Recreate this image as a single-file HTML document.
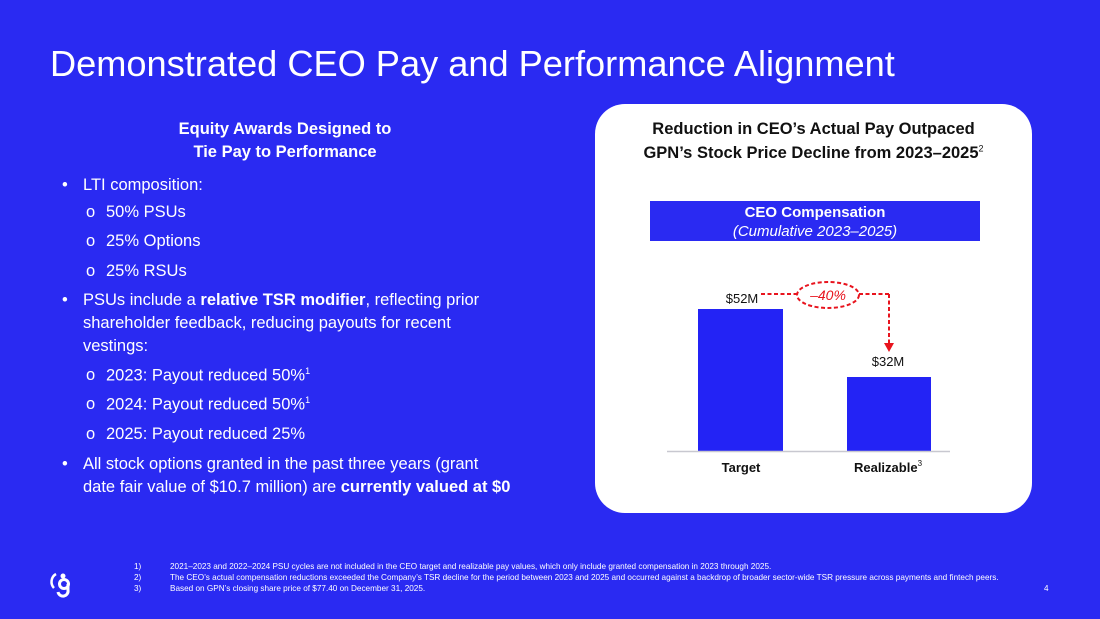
<!DOCTYPE html>
<html><head><style>
body{margin:0;width:1100px;height:619px;background:#2a2af2;overflow:hidden;position:relative;font-family:"Liberation Sans",sans-serif;color:#fff}
.a{position:absolute;white-space:nowrap}
.t{font-size:16.5px}
.fn{font-size:8.2px;color:#fff}
</style></head><body>
<div class="a" style="left:50px;top:43px;font-size:36.2px;">Demonstrated CEO Pay and Performance Alignment</div>
<div class="a" style="left:120px;top:118px;width:330px;text-align:center;font-size:16.5px;font-weight:bold;line-height:23px;white-space:normal">Equity Awards Designed to<br>Tie Pay to Performance</div>
<div class="a t" style="left:62px;top:176px">•</div><div class="a t" style="left:83px;top:176px">LTI composition:</div>
<div class="a t" style="left:86px;top:203px">o</div><div class="a t" style="left:106px;top:203px">50% PSUs</div>
<div class="a t" style="left:86px;top:232px">o</div><div class="a t" style="left:106px;top:232px">25% Options</div>
<div class="a t" style="left:86px;top:262px">o</div><div class="a t" style="left:106px;top:262px">25% RSUs</div>
<div class="a t" style="left:62px;top:291px">•</div><div class="a t" style="left:83px;top:291px">PSUs include a <b>relative TSR modifier</b>, reflecting prior</div>
<div class="a t" style="left:83px;top:314px">shareholder feedback, reducing payouts for recent</div>
<div class="a t" style="left:83px;top:337px">vestings:</div>
<div class="a t" style="left:86px;top:366px">o</div><div class="a t" style="left:106px;top:366px">2023: Payout reduced 50%<sup style="font-size:9px">1</sup></div>
<div class="a t" style="left:86px;top:395px">o</div><div class="a t" style="left:106px;top:395px">2024: Payout reduced 50%<sup style="font-size:9px">1</sup></div>
<div class="a t" style="left:86px;top:425px">o</div><div class="a t" style="left:106px;top:425px">2025: Payout reduced 25%</div>
<div class="a t" style="left:62px;top:455px">•</div><div class="a t" style="left:83px;top:455px">All stock options granted in the past three years (grant</div>
<div class="a t" style="left:83px;top:478px">date fair value of $10.7 million) are <b>currently valued at $0</b></div>

<div class="a" style="left:595px;top:104px;width:437px;height:409px;background:#fff;border-radius:30px"></div>
<div class="a" style="left:595px;top:117px;width:437px;text-align:center;color:#111;font-weight:bold;font-size:16.5px;line-height:24px">Reduction in CEO’s Actual Pay Outpaced<br>GPN’s Stock Price Decline from 2023–2025<sup style="font-size:9px;font-weight:normal;line-height:0">2</sup></div>
<div class="a" style="left:650px;top:201px;width:330px;height:40px;background:#2a2af2;text-align:center;font-size:15px;line-height:19px;padding-top:2px;box-sizing:border-box"><b>CEO Compensation</b><br><i>(Cumulative 2023–2025)</i></div>
<svg class="a" style="left:0;top:0" width="1100" height="619">
<rect x="698" y="309" width="85" height="142" fill="#2323f5"/>
<rect x="847" y="377" width="84" height="74" fill="#2323f5"/>
<line x1="667" y1="451.5" x2="950" y2="451.5" stroke="#c8c8d0" stroke-width="1.5"/>
<text x="742" y="303" font-size="13" text-anchor="middle" fill="#111">$52M</text>
<text x="888" y="366" font-size="13" text-anchor="middle" fill="#111">$32M</text>
<text x="741" y="472" font-size="13" font-weight="bold" text-anchor="middle" fill="#111">Target</text>
<text x="888" y="472" font-size="13" font-weight="bold" text-anchor="middle" fill="#111">Realizable<tspan font-size="8" font-weight="normal" dy="-6">3</tspan></text>
<g stroke="#e8141e" stroke-width="2" stroke-dasharray="4,2.5" fill="none">
<line x1="761" y1="294" x2="797" y2="294"/>
<ellipse cx="828" cy="295" rx="31" ry="13"/>
<line x1="859" y1="294" x2="889" y2="294"/>
<line x1="889" y1="294" x2="889" y2="343"/>
</g>
<polygon points="884,343 894,343 889,352" fill="#e8141e"/>
<text x="828" y="300" font-size="14" font-style="italic" text-anchor="middle" fill="#e8141e">–40%</text>
<path d="M56 574 A9 9 0 0 0 54 588" stroke="#fff" stroke-width="2.5" fill="none"/>
<circle cx="63" cy="576" r="2.5" fill="#fff"/>
<circle cx="64" cy="584" r="4.5" fill="none" stroke="#fff" stroke-width="3"/>
<path d="M68 584 L68 590 A5 5 0 0 1 58 592" stroke="#fff" stroke-width="3" fill="none"/>
</svg>
<div class="a fn" style="left:134px;top:562px">1)</div><div class="a fn" style="left:170px;top:562px">2021–2023 and 2022–2024 PSU cycles are not included in the CEO target and realizable pay values, which only include granted compensation in 2023 through 2025.</div>
<div class="a fn" style="left:134px;top:573px">2)</div><div class="a fn" style="left:170px;top:573px">The CEO’s actual compensation reductions exceeded the Company’s TSR decline for the period between 2023 and 2025 and occurred against a backdrop of broader sector-wide TSR pressure across payments and fintech peers.</div>
<div class="a fn" style="left:134px;top:584px">3)</div><div class="a fn" style="left:170px;top:584px">Based on GPN’s closing share price of $77.40 on December 31, 2025.</div>
<div class="a fn" style="left:1044px;top:584px">4</div>
</body></html>
